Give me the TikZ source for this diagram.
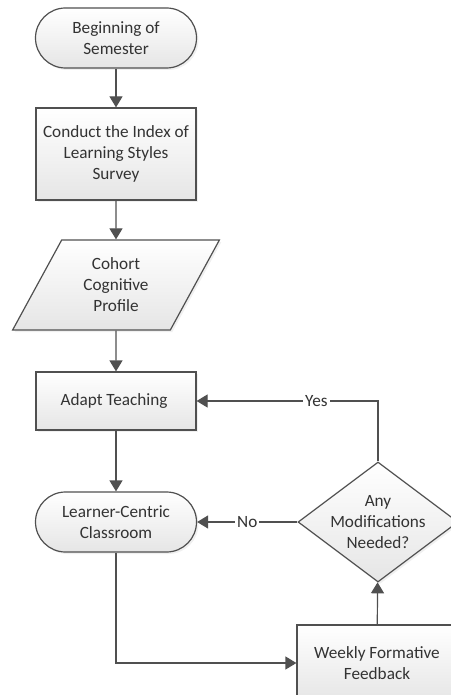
\documentclass[tikz,border=0pt]{standalone}
\usepackage{fontspec}
\setmainfont{Carlito}
\usetikzlibrary{shapes.geometric,arrows.meta,shadows}
\definecolor{linegray}{HTML}{505050}
\definecolor{textgray}{HTML}{333333}
\tikzset{
    chartnode/.style={draw=linegray, line width=0.6pt, top color=white, bottom color=black!10,
        text=textgray, align=center, font=\fontsize{8.6}{10.5}\selectfont, inner sep=2pt,
        drop shadow={opacity=0.12, shadow xshift=1pt, shadow yshift=-1pt}},
    procbox/.style={chartnode, rectangle, minimum width=80pt},
    termbox/.style={chartnode, rectangle, rounded corners=15pt, minimum width=80.5pt, minimum height=30pt},
    databox/.style={chartnode, trapezium, trapezium left angle=62, trapezium right angle=118,
        trapezium stretches=true, minimum width=104pt, minimum height=45pt},
    decbox/.style={chartnode, diamond, aspect=1.333, inner sep=-3pt, minimum width=80pt, minimum height=60pt},
    flow/.style={draw=linegray, line width=0.6pt, -{Triangle[width=6.5pt,length=5.5pt]}},
    flowlabel/.style={fill=white, text=textgray, font=\fontsize{8.6}{10.5}\selectfont, inner sep=1pt}
}
\begin{document}
\begin{tikzpicture}[x=0.5pt, y=-0.5pt]
        \useasboundingbox (0,0) rectangle (450,695);
        \node[termbox] (BEGIN) at (116,38) {
            Beginning of\\Semester
        };
        \node[procbox, minimum height=46pt] (SURVEY) at (116,154) {
            Conduct the Index of\\Learning Styles\\Survey
        };
        \node[databox] (PROFILE) at (116,285) {
            Cohort\\Cognitive\\Profile
        };
        \node[procbox, minimum height=29pt] (ADAPT) at (116,401) {
            Adapt Teaching
        };
        \node[termbox] (CLASS) at (116,522) {
            Learner-Centric\\Classroom
        };
        \node[decbox] (CHECK) at (378,522) {
            Any\\Modifications\\Needed?
        };
        \node[procbox, minimum height=38pt] (FEEDBACK) at (377,663) {
            Weekly Formative\\Feedback
        };
        \draw[flow] (BEGIN) -- (SURVEY);
        \draw[flow] (SURVEY) -- (PROFILE);
        \draw[flow] (PROFILE) -- (ADAPT);
        \draw[flow] (ADAPT) -- (CLASS);
        \draw[flow] (CLASS) |- (FEEDBACK);
        \draw[flow] (FEEDBACK) -- (CHECK);
        \draw[flow] (CHECK.north) |- node[flowlabel, pos=0.67] {Yes} (ADAPT.east);
        \draw[flow] (CHECK.west) -- node[flowlabel] {No} (CLASS.east);
\end{tikzpicture}
\end{document}
